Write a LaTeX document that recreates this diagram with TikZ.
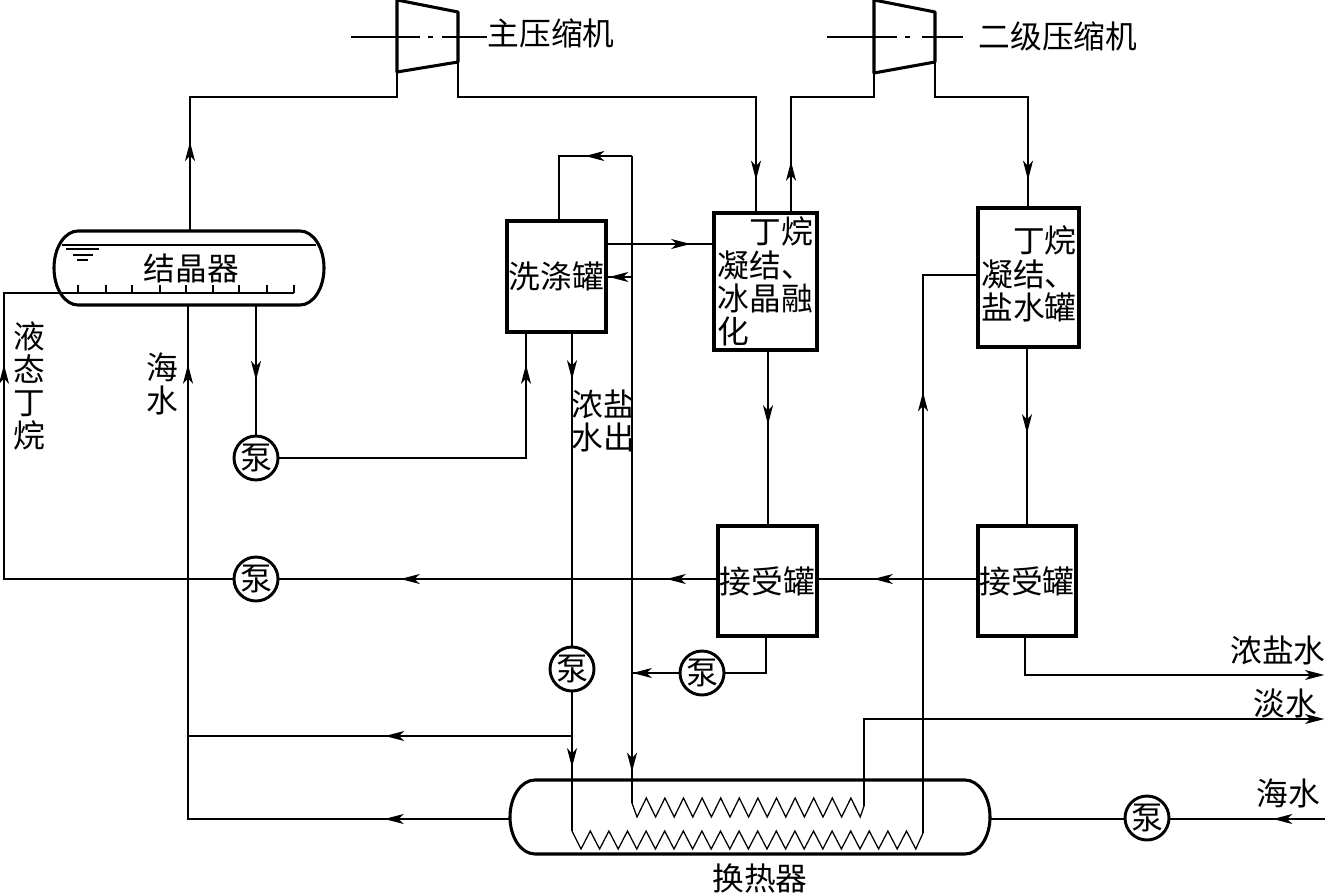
\documentclass[tikz,border=0pt]{standalone}
\usepackage{fontspec}
\setmainfont{Noto Sans CJK SC}
\usetikzlibrary{arrows.meta,decorations.markings}
\tikzset{
  x=0.75pt,y=-0.75pt,
  pipe/.style={line width=1.1pt,line join=miter},
  thinline/.style={line width=0.95pt},
  heavy/.style={line width=2.3pt,line join=round},
  lab/.style={font=\fontsize{23.8}{24.9}\selectfont,inner sep=0pt,align=left},
  vbox/.style={draw,line width=2.3pt,inner sep=0pt,font=\fontsize{23.8}{24.9}\selectfont,align=left},
  pump/.style={draw,circle,line width=2.2pt,minimum size=33pt,inner sep=0pt,font=\fontsize{24}{25}\selectfont},
  vessel/.style={inner sep=0pt,font=\fontsize{23.8}{24.9}\selectfont},
  flow/.style={postaction={decorate,decoration={markings,mark=at position #1*0.75pt with {\arrow{Stealth[length=14.5pt,width=7.5pt,inset=4pt]}}}}},
  endtip/.style={-{Stealth[length=14.5pt,width=7.5pt,inset=4pt]},shorten >=-1pt},
}
\begin{document}
\begin{tikzpicture}
\useasboundingbox (0,0) rectangle (1325,895);
% vessels
\node[vessel,minimum width=201.75pt,minimum height=55.5pt] (cryst) at (191.5,268) {结晶器};
\draw[heavy] (78,231) -- (300,231) arc[start angle=-90,end angle=90,x radius=24,y radius=37] -- (78,305) arc[start angle=90,end angle=270,x radius=24,y radius=37] -- cycle;
\node[vessel,minimum width=359pt,minimum height=55.5pt] (hx) at (750,817) {};
\draw[heavy] (535,780) -- (965,780) arc[start angle=-90,end angle=90,x radius=25,y radius=37] -- (535,854) arc[start angle=90,end angle=270,x radius=25,y radius=37] -- cycle;
\node[lab] (hxlabel) at (760,878) {换热器};
% boxes
\node[vbox,minimum width=74.25pt,minimum height=83.25pt] (wash) at (556.5,276.5) {洗涤罐};
\node[vbox,minimum width=77.25pt,minimum height=102.75pt] (melt) at (765.5,281.5) {\hspace*{1em}丁烷\\凝结、\\冰晶融\\化};
\node[vbox,minimum width=75.75pt,minimum height=104.25pt] (right) at (1028.5,277.5) {};
\node[lab] (rightlabel) at (1029,274) {\hspace*{1em}丁烷\\凝结、\\盐水罐};
\node[vbox,minimum width=74.25pt,minimum height=82.5pt] (rec1) at (767.5,581) {接受罐};
\node[vbox,minimum width=73.5pt,minimum height=82.5pt] (rec2) at (1027,581) {接受罐};
% pumps
\node[pump] (p1) at (256,458) {泵};
\node[pump] (p2) at (256,579) {泵};
\node[pump] (p3) at (572,669) {泵};
\node[pump] (p4) at (702,673) {泵};
\node[pump] (p5) at (1147,818) {泵};
% compressors
\coordinate (c1sw) at (397,72); \coordinate (c1se) at (458,62);
\coordinate (c2sw) at (874,73); \coordinate (c2se) at (935,62);
\draw[heavy] (397,0) -- (458,12) -- (c1se) -- (c1sw) -- cycle;
\draw[heavy] (874,0) -- (935,12) -- (c2se) -- (c2sw) -- cycle;
\draw[pipe] (351,37) -- (420,37) (428,37) -- (433,37) (442,37) -- (487,37);
\draw[pipe] (827,37) -- (897,37) (905,37) -- (910,37) (922,37) -- (963,37);
\node[lab] (main) at (551,33) {主压缩机};
\node[lab] (second) at (1058,36) {二级压缩机};
% crystallizer inner details
\draw[thinline] (62,245) -- (316,245);
\draw[thinline] (66,249) -- (99,249) (73,255) -- (93,255) (77,260) -- (88,260);
\foreach \t in {78,106,132,160,186,213,239,267,294} \draw[thinline] (\t,293) -- (\t,285);
% connectors
\draw[pipe,flow=89] (cryst.north -| 190,0) -- (190,97) -- (397,97) -- (c1sw);
\draw[pipe,flow=416] (c1se) -- (458,97) -- (756,97) -- (melt.north -| 756,0);
\draw[pipe,flow=50] (melt.north -| 791,0) -- (791,97) -- (874,97) -- (c2sw);
\draw[pipe,flow=211] (c2se) -- (935,97) -- (1028,97) -- (right.north -| 1028,0);
\coordinate (coilA) at (632,803);
\coordinate (j0) at (632,156);
\draw[pipe,flow=47] (j0) -- (559,156) -- (wash.north -| 559,0);
\draw[pipe,flow=616] (j0) -- (coilA);
\draw[pipe,flow=83] (wash.east |- 0,244) -- (melt.west |- 0,244);
\coordinate (j1) at (632,277);
\draw[pipe,flow=23] (j1) -- (wash.east |- j1);
\draw[pipe,flow=340] (p1.east) -- (526,458) -- (wash.south -| 526,0);
\draw[pipe,flow=46] (wash.south -| 572,0) -- (p3.north);
\coordinate (coilB) at (572,831);
\draw[pipe,flow=75] (p3.south) -- (coilB);
\draw[pipe,flow=75] (cryst.south -| 256,0) -- (p1.north);
\draw[pipe,flow=73] (melt.south -| 768,0) -- (rec1.north -| 768,0);
\draw[pipe,flow=85] (right.south -| 1027,0) -- (rec2.north -| 1027,0);
\draw[pipe,flow=103] (rec2.west |- 0,579) -- (rec1.east |- 0,579);
\draw[pipe,flow=50,flow=316] (rec1.west |- 0,579) -- (p2.east);
\draw[pipe,flow=443] (p2.west) -- (4,579) -- (4,293) -- (294,293);
\draw[pipe,flow=126,flow=777] (hx.west |- 0,819) -- (188,819) -- (cryst.south -| 188,0);
\coordinate (j2) at (572,736);
\draw[pipe,flow=187] (j2) -- (188,736);
\draw[pipe] (rec1.south -| 766,0) -- (766,673) -- (p4.east);
\coordinate (j3) at (632,673);
\draw[pipe,flow=46] (p4.west) -- (j3);
\coordinate (brineout) at (1323,675);
\draw[pipe,endtip] (rec2.south -| 1025,0) -- (1025,675) -- (brineout);
\coordinate (coilAend) at (864,806);
\coordinate (freshout) at (1323,719);
\draw[pipe,endtip] (coilAend) -- (864,719) -- (freshout);
\coordinate (coilBend) at (923,833);
\draw[pipe,flow=441] (coilBend) -- (923,275) -- (right.west |- 0,275);
\coordinate (seain) at (1325,819);
\draw[pipe,flow=52] (seain) -- (p5.east |- seain);
\draw[pipe] (p5.west |- seain) -- (hx.east |- seain);
% coils
\draw[thinline,line join=miter] (coilA)
  \foreach \i in {0,...,11} { -- ({637+18.6*\i},817) -- ({646.3+18.6*\i},798) } -- (860.2,817) -- (coilAend);
\draw[thinline,line join=miter] (coilB)
  \foreach \i in {0,...,17} { -- ({581+18.6*\i},849) -- ({590.3+18.6*\i},831) } -- (915.8,849) -- (coilBend);
% labels
\node[lab,align=center] (butane) at (29,386) {液\\态\\丁\\烷};
\node[lab,align=center] (seaw) at (162,384) {海\\水};
\node[lab] (brinelab) at (603,421) {浓盐\\水出};
\node[lab] (brineR) at (1278,650) {浓盐水};
\node[lab] (freshR) at (1285,703) {淡水};
\node[lab] (seaR) at (1288,793) {海水};
\end{tikzpicture}
\end{document}
